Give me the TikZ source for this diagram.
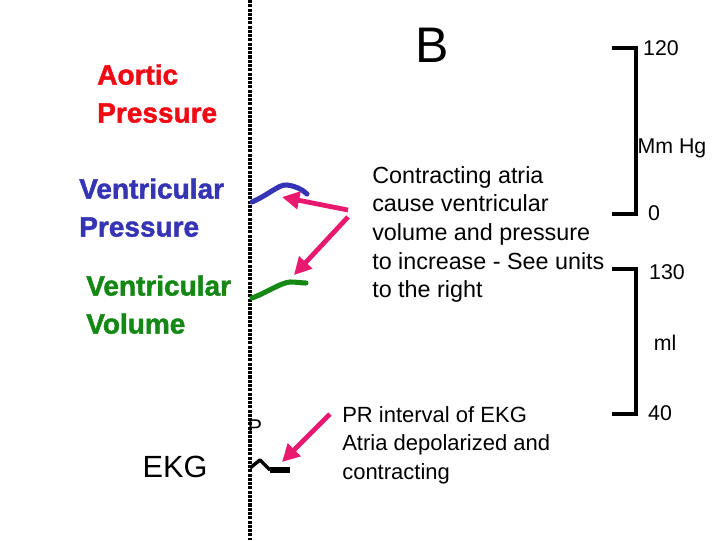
\documentclass[tikz,border=0pt]{standalone}
\usepackage{fontspec}
\setmainfont{Liberation Sans}
\newfontfamily\headfont{Liberation Sans}[BoldFeatures={FakeBold=1.6}]
\usetikzlibrary{arrows.meta}
\definecolor{aored}{RGB}{240,10,20}
\definecolor{vblue}{RGB}{52,52,180}
\definecolor{vgreen}{RGB}{20,135,20}
\definecolor{apink}{RGB}{232,25,110}
\tikzset{
  head/.style={anchor=north west, inner sep=0pt, align=left, font=\headfont\fontsize{21}{28.5}\selectfont\bfseries},
  body/.style={anchor=north west, inner sep=0pt, align=left},
  scalelbl/.style={inner sep=0pt, font=\fontsize{16}{19}\selectfont},
  pinkarrow/.style={apink, line width=3.6pt, -{Triangle[length=13pt, width=13pt]}},
  trace/.style={line width=3.8pt, line cap=round},
  bracket/.style={line width=2.4pt},
}
\begin{document}
\begin{tikzpicture}[x=0.75pt, y=-0.75pt]
\useasboundingbox (0,0) rectangle (720,540);
% dotted divider
\coordinate (dtop) at (250,0);
\coordinate (dbot) at (250,540);
\draw[line width=2.3pt, dash pattern=on 2.3pt off 0.9pt] (dtop) -- (dbot);

% title
\node[inner sep=0pt, font=\fontsize{37.5}{40}\selectfont] (B) at (432,45) {B};

% headings
\node[head, text=aored] (aortic) at (97,64) {Aortic\\Pressure};
\node[head, text=vblue] (vpress) at (79,178) {Ventricular\\Pressure};
\node[head, text=vgreen] (vvol) at (86,275) {Ventricular\\Volume};
\node[inner sep=0pt, font=\fontsize{23}{26}\selectfont] (ekg) at (175,467) {EKG};
\node[inner sep=0pt, font=\fontsize{16}{19}\selectfont] (P) at (255,427) {P};

% traces
\coordinate (b0) at (252,202);
\coordinate (b1) at (307,194);
\draw[trace, vblue] (b0) .. controls (270,194) and (279,184) .. (287,185) .. controls (295,186) and (302,189) .. (b1);
\coordinate (g0) at (252,298);
\coordinate (g1) at (306,283);
\draw[trace, vgreen] (g0) .. controls (268,292) and (280,283) .. (290,282) .. controls (297,282) and (302,283) .. (g1);
% EKG P wave
\coordinate (e0) at (250,468);
\coordinate (epk) at (260,460);
\coordinate (e1) at (270,470);
\coordinate (e2) at (290,470);
\draw[line width=2.6pt, line join=round] (e0) -- (epk) -- (e1);
\draw[line width=3.8pt] (e1) -- (e2);

% text blocks
\node[body, font=\fontsize{17.5}{21.5}\selectfont] (contract) at (372,166)
  {Contracting atria\\cause ventricular\\volume and pressure\\to increase - See units\\to the right};
\node[body, font=\fontsize{16.5}{21.4}\selectfont] (pr) at (342,406)
  {PR interval of EKG\\Atria depolarized and\\contracting};

% arrows
\coordinate (a1s) at (348,210);
\coordinate (a1e) at (282,197);
\coordinate (a2s) at (348,217);
\coordinate (a2e) at (294,275);
\coordinate (a3s) at (330,414);
\coordinate (a3e) at (282,462);
\draw[pinkarrow] (a1s) -- (a1e);
\draw[pinkarrow] (a2s) -- (a2e);
\draw[pinkarrow] (a3s) -- (a3e);

% scale brackets
\coordinate (u1) at (612,48);
\coordinate (u2) at (636,48);
\coordinate (u3) at (636,214);
\coordinate (u4) at (612,214);
\draw[bracket] (u1) -- (u2) -- (u3) -- (u4);
\coordinate (l1) at (612,269);
\coordinate (l2) at (636,269);
\coordinate (l3) at (636,414);
\coordinate (l4) at (612,414);
\draw[bracket] (l1) -- (l2) -- (l3) -- (l4);

\node[scalelbl] (s120) at (661,48) {120};
\node[scalelbl] (smm) at (672,148) {Mm Hg};
\node[scalelbl] (s0) at (654,213) {0};
\node[scalelbl] (s130) at (667,272) {130};
\node[scalelbl] (sml) at (665,343) {ml};
\node[scalelbl] (s40) at (660,413) {40};
\end{tikzpicture}
\end{document}
